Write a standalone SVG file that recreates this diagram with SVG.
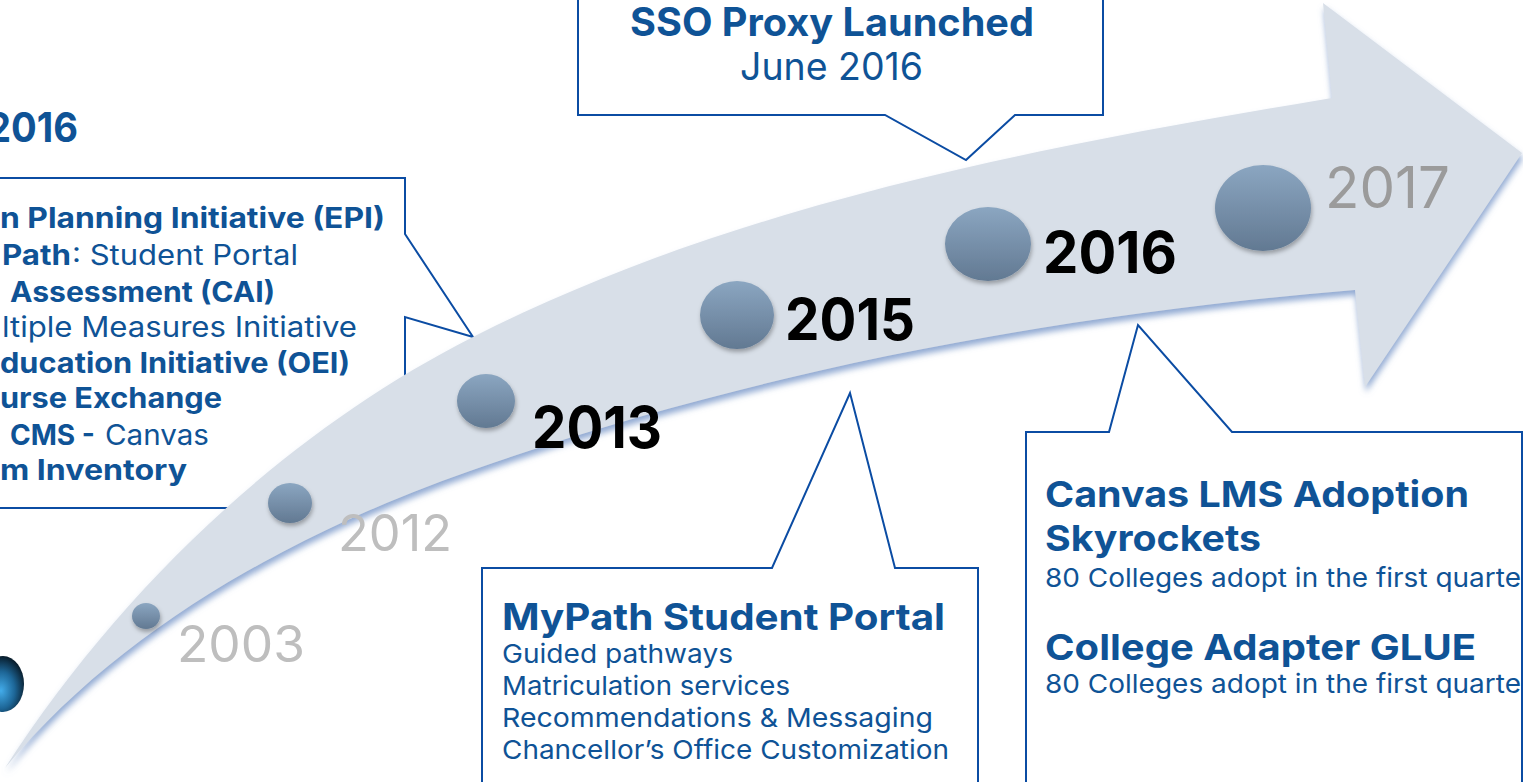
<svg xmlns="http://www.w3.org/2000/svg" width="1523" height="782" viewBox="0 0 1523 782">
<style>
text{font-family:Inter,"DejaVu Sans","Liberation Sans",sans-serif;}
.b{font-weight:700;fill:#0F5396;}
.r{font-weight:400;fill:#0F5396;}
.callout{fill:#fff;stroke:#0B4CA3;stroke-width:2;stroke-linejoin:miter;}
.dot{fill:url(#dotGrad);filter:url(#dotShadow);}
.yg{fill:#BEBEBE;font-weight:400;}
.yk{fill:#000;font-weight:700;}
</style>
<defs>
<linearGradient id="dotGrad" x1="0" y1="0" x2="0" y2="1">
<stop offset="0" stop-color="#8BA6C1"/>
<stop offset="1" stop-color="#627992"/>
</linearGradient>
<radialGradient id="ballGrad" cx="0.45" cy="0.6" r="0.6" fx="0.45" fy="0.62">
<stop offset="0" stop-color="#43ACEA"/>
<stop offset="0.55" stop-color="#1D6697"/>
<stop offset="1" stop-color="#081C2B"/>
</radialGradient>
<filter id="dotShadow" x="-30%" y="-30%" width="160%" height="170%">
<feDropShadow dx="1" dy="3" stdDeviation="2" flood-color="#000" flood-opacity="0.3"/>
</filter>
<filter id="arrowShadow" x="-5%" y="-5%" width="110%" height="115%">
<feDropShadow dx="1" dy="5" stdDeviation="3" flood-color="#7E9BCB" flood-opacity="0.85"/>
</filter>
</defs>

<g id="callout-left">
<polygon class="callout" points="-5,178 405,178 405,234 473,337 405,317 405,420 300,508 -5,508"/>
<text class="b" x="-13" y="142" font-size="41" textLength="91" lengthAdjust="spacingAndGlyphs">2016</text>
<text class="b" x="0" y="228" font-size="28" textLength="385" lengthAdjust="spacingAndGlyphs">n Planning Initiative (EPI)</text>
<text class="b" x="2" y="265" font-size="28" textLength="69" lengthAdjust="spacingAndGlyphs">Path</text>
<text class="r" x="72" y="265" font-size="28" textLength="226" lengthAdjust="spacingAndGlyphs">: Student Portal</text>
<text class="b" x="10" y="302" font-size="28" textLength="265" lengthAdjust="spacingAndGlyphs">Assessment (CAI)</text>
<text class="r" x="2" y="337" font-size="28" textLength="355" lengthAdjust="spacingAndGlyphs">ltiple Measures Initiative</text>
<text class="b" x="0" y="373" font-size="28" textLength="350" lengthAdjust="spacingAndGlyphs">ducation Initiative (OEI)</text>
<text class="b" x="0" y="408" font-size="28" textLength="222" lengthAdjust="spacingAndGlyphs">urse Exchange</text>
<text class="b" x="10" y="445" font-size="28" textLength="85" lengthAdjust="spacingAndGlyphs">CMS -</text>
<text class="r" x="105" y="445" font-size="28" textLength="104" lengthAdjust="spacingAndGlyphs">Canvas</text>
<text class="b" x="0" y="480" font-size="28" textLength="187" lengthAdjust="spacingAndGlyphs">m Inventory</text>
</g>

<g id="callout-sso">
<polygon class="callout" points="578,-5 1103,-5 1103,115 1015,115 966,160 885,115 578,115"/>
<text class="b" x="630" y="36" font-size="39" textLength="404" lengthAdjust="spacingAndGlyphs">SSO Proxy Launched</text>
<text class="r" x="740" y="80" font-size="38" textLength="183" lengthAdjust="spacingAndGlyphs">June 2016</text>
</g>

<g id="callout-mypath">
<polygon class="callout" points="482,568 772,568 850,393 895,568 978,568 978,790 482,790"/>
<text class="b" x="502" y="630" font-size="37" textLength="443" lengthAdjust="spacingAndGlyphs">MyPath Student Portal</text>
<text class="r" x="502" y="663" font-size="26" textLength="231" lengthAdjust="spacingAndGlyphs">Guided pathways</text>
<text class="r" x="502" y="695" font-size="26" textLength="288" lengthAdjust="spacingAndGlyphs">Matriculation services</text>
<text class="r" x="502" y="727" font-size="26" textLength="431" lengthAdjust="spacingAndGlyphs">Recommendations &amp; Messaging</text>
<text class="r" x="502" y="759" font-size="26" textLength="447" lengthAdjust="spacingAndGlyphs">Chancellor’s Office Customization</text>
</g>

<g id="callout-canvas">
<polygon class="callout" points="1026,432 1109,432 1138,325 1232,432 1522,432 1522,790 1026,790"/>
<text class="b" x="1045" y="507" font-size="36" textLength="424" lengthAdjust="spacingAndGlyphs">Canvas LMS Adoption</text>
<text class="b" x="1045" y="551" font-size="36" textLength="216" lengthAdjust="spacingAndGlyphs">Skyrockets</text>
<text class="r" x="1045" y="587" font-size="26" textLength="476" lengthAdjust="spacingAndGlyphs">80 Colleges adopt in the first quarte</text>
<text class="b" x="1045" y="660" font-size="36" textLength="431" lengthAdjust="spacingAndGlyphs">College Adapter GLUE</text>
<text class="r" x="1045" y="693" font-size="26" textLength="476" lengthAdjust="spacingAndGlyphs">80 Colleges adopt in the first quarte</text>
</g>

<g id="ball">
<ellipse cx="3" cy="684" rx="21" ry="28" fill="url(#ballGrad)"/>
</g>

<g id="timeline-arrow">
<path d="M5,768 C120,590 284,433 473,337 C737,203 1039,147 1332,98 L1323,3 L1522,153 L1365,387 L1355,290 C1055,315 753,371 470,471 C297,532 123,626 5,768 Z" fill="#D8DFE8" filter="url(#arrowShadow)"/>
</g>

<g id="connectors"></g>

<g id="m2003">
<ellipse class="dot" cx="146" cy="616" rx="14" ry="13"/>
<text class="yg" x="177" y="662" font-size="50" textLength="128" lengthAdjust="spacingAndGlyphs">2003</text>
</g>
<g id="m2012">
<ellipse class="dot" cx="290" cy="503" rx="22" ry="20"/>
<text class="yg" x="338" y="551" font-size="50" textLength="114" lengthAdjust="spacingAndGlyphs">2012</text>
</g>
<g id="m2013">
<ellipse class="dot" cx="486" cy="401" rx="29" ry="27"/>
<text class="yk" x="532" y="448" font-size="58" textLength="130" lengthAdjust="spacingAndGlyphs">2013</text>
</g>
<g id="m2015">
<ellipse class="dot" cx="737" cy="315" rx="37" ry="34"/>
<text class="yk" x="785" y="340" font-size="58" textLength="130" lengthAdjust="spacingAndGlyphs">2015</text>
</g>
<g id="m2016">
<ellipse class="dot" cx="988" cy="244" rx="43" ry="37"/>
<text class="yk" x="1043" y="273" font-size="58" textLength="134" lengthAdjust="spacingAndGlyphs">2016</text>
</g>
<g id="m2017">
<ellipse class="dot" cx="1263" cy="208" rx="48" ry="43"/>
<text x="1325" y="208" font-size="57" fill="#9B9B9B" textLength="125" lengthAdjust="spacingAndGlyphs">2017</text>
</g>
</svg>
